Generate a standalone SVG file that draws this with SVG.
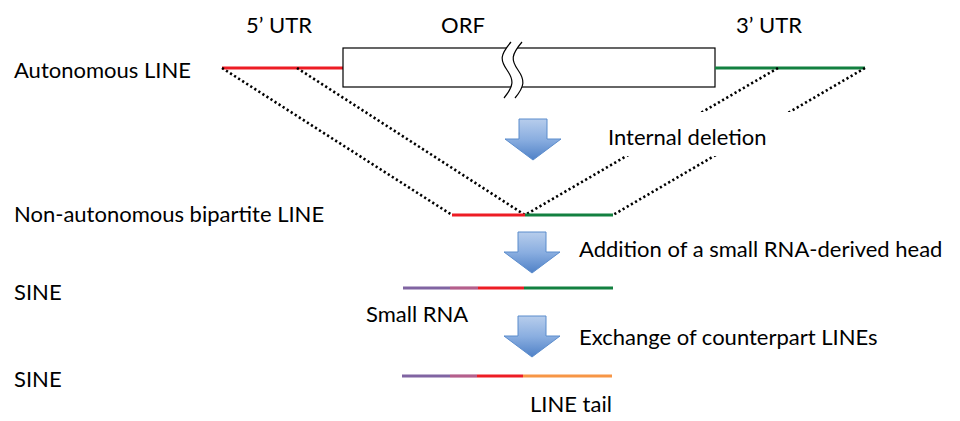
<svg xmlns="http://www.w3.org/2000/svg" width="960" height="421" viewBox="0 0 960 421">
  <defs>
    <linearGradient id="arrowFill" x1="0" y1="0" x2="0" y2="1">
      <stop offset="0" stop-color="#b7cdec"/>
      <stop offset="0.5" stop-color="#8aaee0"/>
      <stop offset="1" stop-color="#4f81c7"/>
    </linearGradient>
    <path id="blockArrow" d="M -14 0 L 14 0 L 14 20 L 28 20 L 0 41 L -28 20 L -14 20 Z"/>
  </defs>
  <style>
    text { font-family: "Lato", "Open Sans", "Liberation Sans", sans-serif; font-size: 22px; fill: #000; }
    .seg { stroke-width: 3.2; fill: none; stroke-linecap: butt; }
    .red { stroke: #ed1c24; }
    .green { stroke: #138040; }
    .purple { stroke: #8064a2; }
    .mix { stroke: #b45f8c; }
    .orange { stroke: #f79646; }
    .dots { stroke: #000; stroke-width: 2.6; stroke-dasharray: 2.2 2.6; fill: none; }
    .arrow { fill: url(#arrowFill); stroke: #5b8ccc; stroke-width: 1; }
    .box { fill: #fff; stroke: #000; stroke-width: 1.2; }
    .brk { fill: none; stroke: #000; stroke-width: 1.2; }
  </style>

  <!-- autonomous element -->
  <g id="autonomous-line">
    <text x="14" y="78">Autonomous LINE</text>
    <text x="279" y="33" text-anchor="middle">5’ UTR</text>
    <text x="463" y="33" text-anchor="middle">ORF</text>
    <text x="769" y="33" text-anchor="middle">3’ UTR</text>
    <line class="seg red" x1="222" y1="68" x2="343" y2="68"/>
    <rect class="box" x="343" y="48" width="372" height="39"/>
    <line class="seg green" x1="715" y1="68" x2="865" y2="68"/>
    <!-- break mark across the ORF -->
    <path d="M 511 42 C 500 55, 500 60, 507 70 C 514 80, 514 86, 504 98 L 515 98 C 525 86, 525 80, 518 70 C 511 60, 511 55, 522 42 Z" fill="#fff" stroke="none"/>
    <path class="brk" d="M 511 42 C 500 55, 500 60, 507 70 C 514 80, 514 86, 504 98"/>
    <path class="brk" d="M 522 42 C 511 55, 511 60, 518 70 C 525 80, 525 86, 515 98"/>
  </g>

  <!-- connectors: projection of the retained regions -->
  <g id="connectors">
    <line class="dots" x1="222" y1="68" x2="452" y2="215"/>
    <line class="dots" x1="297" y1="68" x2="525" y2="215"/>
    <line class="dots" x1="778" y1="68" x2="525" y2="215"/>
    <line class="dots" x1="865" y1="68" x2="613" y2="215"/>
  </g>

  <g id="step-deletion">
    <use href="#blockArrow" class="arrow" transform="translate(533,119)"/>
    <!-- label sits on an opaque backing that masks the connectors -->
    <rect x="598" y="112" width="197" height="44" fill="#fff"/>
    <text x="608" y="145">Internal deletion</text>
  </g>

  <g id="bipartite-line">
    <text x="14" y="222">Non-autonomous bipartite LINE</text>
    <line class="seg red" x1="452" y1="215" x2="525" y2="215"/>
    <line class="seg green" x1="525" y1="215" x2="613" y2="215"/>
  </g>

  <g id="step-head">
    <use href="#blockArrow" class="arrow" transform="translate(532,232)"/>
    <text x="579" y="257">Addition of a small RNA-derived head</text>
  </g>

  <g id="sine-1">
    <text x="14" y="300">SINE</text>
    <line class="seg purple" x1="403" y1="288" x2="450" y2="288"/>
    <line class="seg mix" x1="450" y1="288" x2="478" y2="288"/>
    <line class="seg red" x1="478" y1="288" x2="524" y2="288"/>
    <line class="seg green" x1="524" y1="288" x2="613" y2="288"/>
    <text x="366" y="322">Small RNA</text>
  </g>

  <g id="step-exchange">
    <use href="#blockArrow" class="arrow" transform="translate(532,316)"/>
    <text x="579" y="345">Exchange of counterpart LINEs</text>
  </g>

  <g id="sine-2">
    <text x="14" y="387">SINE</text>
    <line class="seg purple" x1="402" y1="376" x2="450" y2="376"/>
    <line class="seg mix" x1="450" y1="376" x2="477" y2="376"/>
    <line class="seg red" x1="477" y1="376" x2="523" y2="376"/>
    <line class="seg orange" x1="523" y1="376" x2="612" y2="376"/>
    <text x="530" y="412">LINE tail</text>
  </g>
</svg>
